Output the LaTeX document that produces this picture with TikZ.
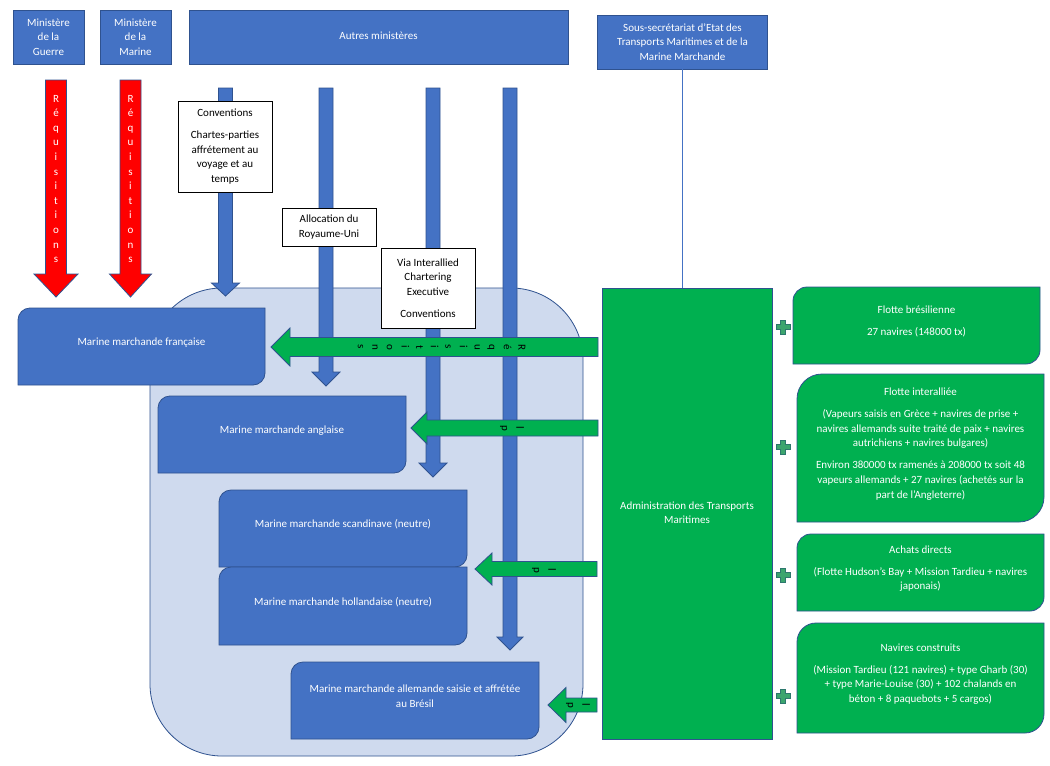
\documentclass[tikz,border=0pt]{standalone}
\usepackage{graphicx}
\usepackage{fontspec}
\setmainfont{Carlito}
\definecolor{mblue}{RGB}{68,114,196}
\definecolor{mborder}{RGB}{47,82,143}
\definecolor{mlight}{RGB}{207,218,238}
\definecolor{mgreen}{RGB}{0,176,80}
\definecolor{mred}{RGB}{255,0,0}
\definecolor{mplus}{RGB}{60,165,110}
\definecolor{mplusb}{RGB}{45,120,110}
\newcommand{\myfs}{\fontsize{11pt}{14.6pt}\selectfont}
\newcommand{\rotstack}[1]{\rotatebox{-90}{\begin{tabular}{@{}c@{}}#1\end{tabular}}}
\newcommand{\upstack}[2]{\raisebox{#1}{\begin{tabular}{@{}c@{}}#2\end{tabular}}}
\tikzset{
  shp/.style={draw=mborder, line width=0.8pt},
  bluefill/.style={shp, fill=mblue},
  greenfill/.style={shp, fill=mgreen},
  redfill/.style={shp, fill=mred},
  wtxt/.style={text=white, align=center, font=\myfs, inner sep=0pt},
  btxt/.style={text=black, align=center, font=\myfs, inner sep=0pt},
  topbox/.style={bluefill, text=white, align=center, font=\myfs, inner sep=0pt},
  whitebox/.style={draw=black, line width=0.7pt, fill=white, text=black, align=center, font=\myfs, inner sep=0pt, minimum width=94pt},
  plusfill/.style={fill=mplus, draw=mplusb, line width=0.7pt},
}
% box with rounded top-left and bottom-right corners
\newcommand{\DiagBox}[8]{%
  \path[#1] (#2,#3+#6) -- (#2,#5) -- (#4-#6,#5) .. controls (#4-0.448*#6,#5) and (#4,#5-0.448*#6) .. (#4,#5-#6) -- (#4,#3) -- (#2+#6,#3) .. controls (#2+0.448*#6,#3) and (#2,#3+0.448*#6) .. (#2,#3+#6) -- cycle;
  \node[inner sep=0pt, minimum width={(#4-#2)*1pt}, minimum height={(#5-#3)*1pt}] (#7) at ({(#2+#4)/2},{(#3+#5)/2}) {};
  \node[wtxt] (#7-t) at ([yshift=4pt]#7.center) {#8};
}
% downward block arrow: style, cx, top, tip, half shaft, half head, head length
\newcommand{\DArrow}[7]{%
  \path[#1] (#2-#5,#3) -- (#2+#5,#3) -- (#2+#5,#4-#7) -- (#2+#6,#4-#7) -- (#2,#4) -- (#2-#6,#4-#7) -- (#2-#5,#4-#7) -- cycle;}
% leftward block arrow: style, right end, tip, cy, half shaft, half head, head length
\newcommand{\LArrow}[7]{%
  \path[#1] (#2,#4-#5) -- (#3+#7,#4-#5) -- (#3+#7,#4-#6) -- (#3,#4) -- (#3+#7,#4+#6) -- (#3+#7,#4+#5) -- (#2,#4+#5) -- cycle;}
\newcommand{\PlusSign}[2]{%
  \path[plusfill] (#1-2.8,#2-7) -- (#1+2.8,#2-7) -- (#1+2.8,#2-2.8) -- (#1+7,#2-2.8) -- (#1+7,#2+2.8) -- (#1+2.8,#2+2.8) -- (#1+2.8,#2+7) -- (#1-2.8,#2+7) -- (#1-2.8,#2+2.8) -- (#1-7,#2+2.8) -- (#1-7,#2-2.8) -- (#1-2.8,#2-2.8) -- cycle;}
\begin{document}
\begin{tikzpicture}[x=1pt, y=-1pt]
\useasboundingbox (0,0) rectangle (1050,766);
\fill[white] (0,0) rectangle (1050,766);

% container
\path[shp, fill=mlight, rounded corners=72pt] (150,288) rectangle (583,756);
\node[inner sep=0pt, minimum width=433pt, minimum height=468pt] (cont) at (366.5,522) {};

% red arrows
\DArrow{redfill}{56}{80}{297}{10.5}{22}{23}
\DArrow{redfill}{130.5}{80}{297}{10.5}{21}{23}
\node[wtxt] (rq1) at (56,179) {R\\é\\q\\u\\i\\s\\i\\t\\i\\o\\n\\s};
\node[wtxt] (rq2) at (130.5,179) {R\\é\\q\\u\\i\\s\\i\\t\\i\\o\\n\\s};

% blue arrows
\DArrow{bluefill}{225.5}{88}{296}{7}{14}{13}
\DArrow{bluefill}{326}{88}{386}{7}{14}{14}
\DArrow{bluefill}{433}{88}{477}{7}{14}{14}
\DArrow{bluefill}{510}{88}{650}{7}{13}{13}

% green arrows
\LArrow{greenfill}{598}{271}{347}{9.5}{19}{19}
\LArrow{greenfill}{598}{411}{428}{8}{16}{16}
\LArrow{greenfill}{597}{475}{569}{7.5}{16}{17}
\LArrow{greenfill}{597}{548}{705}{7}{17.5}{18}
\node[btxt] (g1t) at (441,347) {\rotstack{R\\é\\q\\u\\i\\s\\i\\t\\i\\o\\n\\s}};
\node[btxt] (g2t) at (512,428) {\rotstack{l\\p}};
\node[btxt] (g3t) at (544,570) {\rotstack{l\\p}};
\node[btxt] (g4t) at (578,705) {\rotstack{l\\p}};

% blue boxes
\DiagBox{bluefill}{18}{308}{265}{385}{12}{fr}{Marine marchande française}
\DiagBox{bluefill}{158}{396}{406}{473}{12}{an}{Marine marchande anglaise}
\DiagBox{bluefill}{219}{490}{467}{567}{12}{sc}{Marine marchande scandinave (neutre)}
\DiagBox{bluefill}{219}{567}{467}{645}{12}{ho}{Marine marchande hollandaise (neutre)}
\DiagBox{bluefill}{291}{662}{539}{739}{12}{al}{Marine marchande allemande saisie et affrétée\\au Brésil}

% top boxes
\node[topbox, minimum width=71pt, minimum height=54pt] (mg) at (48.5,37) {Ministère\\de la\\Guerre};
\node[topbox, minimum width=71pt, minimum height=54pt] (mm) at (135.5,37) {Ministère\\de la\\Marine};
\node[topbox, minimum width=379pt, minimum height=54pt] (am) at (378.5,37) {\upstack{5pt}{Autres ministères}};
\node[topbox, minimum width=170pt, minimum height=54pt] (ss) at (682.5,42) {Sous-secrétariat d’Etat des\\Transports Maritimes et de la\\Marine Marchande};

% administration
\node[greenfill, text=white, align=center, font=\myfs, inner sep=0pt, minimum width=170pt, minimum height=451pt] (adm) at (687,513.5) {\upstack{5pt}{Administration des Transports\\Maritimes}};
\draw[mblue, line width=0.8pt] (ss.south) -- (ss.south |- adm.north);

% white text boxes
\node[whitebox, minimum height=91pt] (conv) at (225,146.5) {Conventions\\[7.5pt]Chartes-parties\\affrétement au\\voyage et au\\temps};
\node[whitebox, minimum height=38pt] (alloc) at (329,227) {Allocation du\\Royaume-Uni};
\node[whitebox, minimum height=80pt] (via) at (428,288) {Via Interallied\\Chartering\\Executive\\[7.5pt]Conventions};

% green boxes
\DiagBox{greenfill}{793}{287}{1040}{364}{14}{br}{Flotte brésilienne\\[7.5pt]27 navires (148000 tx)}
\DiagBox{greenfill}{797}{374}{1044}{522}{25}{ia}{Flotte interalliée\\[7.5pt](Vapeurs saisis en Grèce + navires de prise +\\navires allemands suite traité de paix + navires\\autrichiens + navires bulgares)\\[7.5pt]Environ 380000 tx ramenés à 208000 tx soit 48\\vapeurs allemands + 27 navires (achetés sur la\\part de l’Angleterre)}
\DiagBox{greenfill}{797}{534}{1044}{611}{14}{ac}{Achats directs\\[7.5pt](Flotte Hudson’s Bay + Mission Tardieu + navires\\japonais)}
\DiagBox{greenfill}{797}{623}{1044}{733}{19}{nc}{Navires construits\\[7.5pt](Mission Tardieu (121 navires) + type Gharb (30)\\+ type Marie-Louise (30) + 102 chalands en\\béton + 8 paquebots + 5 cargos)}

% plus signs
\PlusSign{783}{327}
\PlusSign{783}{447}
\PlusSign{783}{575}
\PlusSign{783}{696}
\end{tikzpicture}
\end{document}
